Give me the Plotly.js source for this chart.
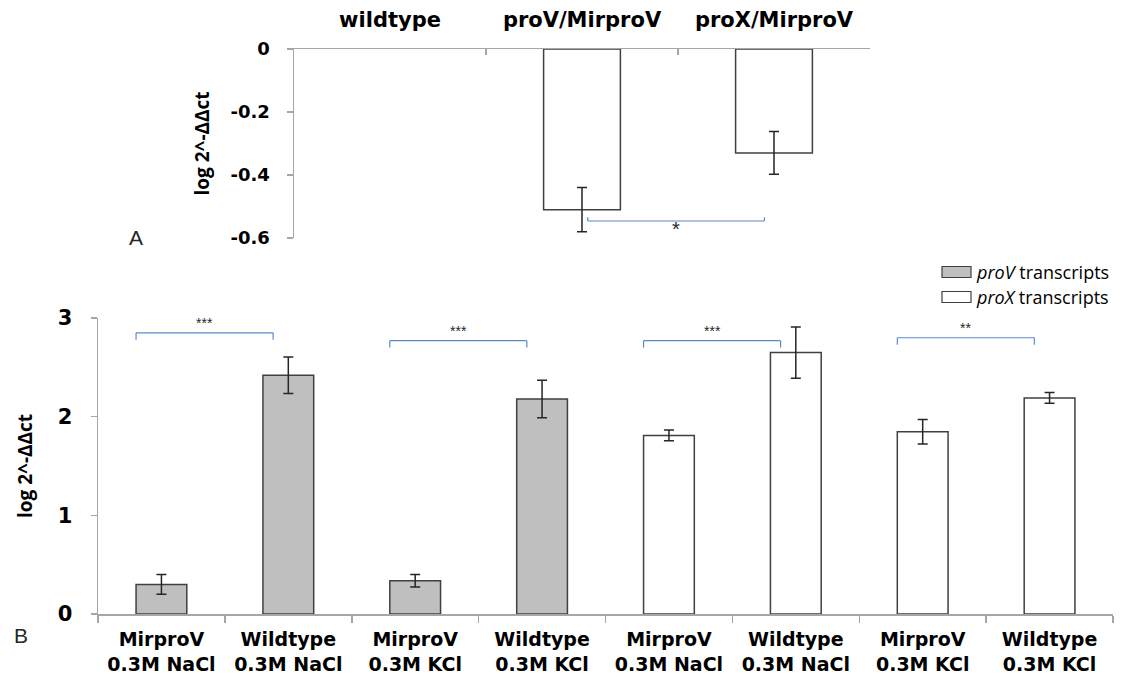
<!DOCTYPE html>
<html>
<head>
<meta charset="utf-8">
<script src="https://cdn.plot.ly/plotly-3.0.1.min.js"></script>
<style>html,body{margin:0;padding:0;background:#fff;}#chart{width:1130px;height:678px;}</style>
</head>
<body>
<div id="chart"></div>
<script>
// ---- Panel A data ----
const aCategories = ['wildtype', 'proV/MirproV', 'proX/MirproV'];
const aValues = [null, -0.51, -0.33];
const aErrors = [null, 0.07, 0.068];
const aTickVals = [0, -0.2, -0.4, -0.6];
const aTickText = ['0', '-0.2', '-0.4', '-0.6'];
const aSigLabel = '*';

// ---- Panel B data ----
const bConditions = ['MirproV<br>0.3M NaCl', 'Wildtype<br>0.3M NaCl', 'MirproV<br>0.3M KCl', 'Wildtype<br>0.3M KCl'];
const bSeriesNames = ['<i>proV</i> transcripts', '<i>proX</i> transcripts'];
const proVValues = [0.30, 2.42, 0.337, 2.18];
const proVErrors = [0.10, 0.185, 0.063, 0.19];
const proXValues = [1.81, 2.65, 1.847, 2.19];
const proXErrors = [0.055, 0.26, 0.125, 0.055];
const bTickVals = [0, 1, 2, 3];
const bSigLabels = ['***', '***', '***', '**'];

// category keys (unique) and displayed labels
const proVKeys = bConditions.map((c, i) => 'V' + i);
const proXKeys = bConditions.map((c, i) => 'X' + i);
const bKeys = proVKeys.concat(proXKeys);
const bLabels = bConditions.concat(bConditions);

const axisGray = '#a6a6a6';
const barLine = '#404040';
const sigBlue = '#5b8cc8';
const boldFont = 'DejaVu Sans';
const fills = ['#bfbfbf', '#ffffff'];

const errStyle = {type: 'data', visible: true, color: '#262626', thickness: 1.5, width: 5};

const traces = [
  {
    type: 'bar', x: aCategories, y: aValues, xaxis: 'x', yaxis: 'y',
    width: 0.4, showlegend: false,
    marker: {color: '#ffffff', line: {color: barLine, width: 1.5}},
    error_y: Object.assign({array: aErrors}, errStyle)
  },
  {
    type: 'bar', x: proVKeys, y: proVValues, xaxis: 'x2', yaxis: 'y2',
    name: bSeriesNames[0], width: 0.4, showlegend: false,
    marker: {color: fills[0], line: {color: barLine, width: 1.5}},
    error_y: Object.assign({array: proVErrors}, errStyle)
  },
  {
    type: 'bar', x: proXKeys, y: proXValues, xaxis: 'x2', yaxis: 'y2',
    name: bSeriesNames[1], width: 0.4, showlegend: false,
    marker: {color: fills[1], line: {color: barLine, width: 1.5}},
    error_y: Object.assign({array: proXErrors}, errStyle)
  }
];

const shapes = [];
const annotations = [];

// significance brackets, panel B
const bPairs = [[0, 1], [2, 3], [4, 5], [6, 7]];
const bBracketY = [2.85, 2.77, 2.77, 2.80];
bPairs.forEach((p, k) => {
  const x0 = p[0] - 0.2, x1 = p[1] - 0.12, y = bBracketY[k], t = 0.07;
  const ln = {type: 'line', xref: 'x2', yref: 'y2', line: {color: sigBlue, width: 1.2}};
  shapes.push(Object.assign({x0: x0, x1: x1, y0: y, y1: y}, ln));
  shapes.push(Object.assign({x0: x0, x1: x0, y0: y, y1: y - t}, ln));
  shapes.push(Object.assign({x0: x1, x1: x1, y0: y, y1: y - t}, ln));
  annotations.push({xref: 'x2', yref: 'y2', x: (x0 + x1) / 2, y: y + 0.1, text: bSigLabels[k],
    showarrow: false, font: {family: 'Liberation Sans', size: 14, color: '#262626'}});
});
// panel A bracket
(function () {
  const x0 = 1.03, x1 = 1.95, y = -0.546, t = 0.012;
  const ln = {type: 'line', xref: 'x', yref: 'y', line: {color: sigBlue, width: 1.2}};
  shapes.push(Object.assign({x0: x0, x1: x1, y0: y, y1: y}, ln));
  shapes.push(Object.assign({x0: x0, x1: x0, y0: y, y1: y + t}, ln));
  shapes.push(Object.assign({x0: x1, x1: x1, y0: y, y1: y + t}, ln));
  annotations.push({xref: 'x', yref: 'y', x: (x0 + x1) / 2, y: -0.572, text: aSigLabel,
    showarrow: false, font: {family: 'Liberation Sans', size: 20, color: '#262626'}});
})();

// legend (wide swatches as in the original)
const legendRows = [272, 297];
bSeriesNames.forEach((name, i) => {
  const yc = legendRows[i];
  shapes.push({type: 'rect', xref: 'paper', yref: 'paper',
    x0: 942 / 1130, x1: 971 / 1130, y0: 1 - (yc - 5.5) / 678, y1: 1 - (yc + 5.5) / 678,
    fillcolor: fills[i], line: {color: barLine, width: 1.2}});
  annotations.push({xref: 'paper', yref: 'paper', x: 974 / 1130, y: 1 - yc / 678,
    xanchor: 'left', yanchor: 'middle', text: name, showarrow: false,
    font: {family: 'Open Sans', size: 18, color: '#000'}});
});

// panel letters
annotations.push({xref: 'paper', yref: 'paper', x: 136 / 1130, y: 1 - 238 / 678, text: 'A',
  showarrow: false, xanchor: 'center', yanchor: 'middle', font: {family: 'Liberation Sans', size: 21, color: '#262626'}});
annotations.push({xref: 'paper', yref: 'paper', x: 21 / 1130, y: 1 - 635 / 678, text: 'B',
  showarrow: false, xanchor: 'center', yanchor: 'middle', font: {family: 'Liberation Sans', size: 21, color: '#262626'}});

const titleFont = {family: 'Open Sans', size: 19, color: '#000', weight: 'bold'};

const layout = {
  width: 1130, height: 678,
  margin: {l: 0, r: 0, t: 0, b: 0},
  paper_bgcolor: '#ffffff', plot_bgcolor: 'rgba(0,0,0,0)',
  barmode: 'overlay',
  showlegend: false,
  xaxis: {
    type: 'category', domain: [294 / 1130, 870 / 1130], anchor: 'y', side: 'top',
    range: [-0.5, 2.5], tickson: 'boundaries', ticks: 'inside', ticklen: 6,
    tickcolor: axisGray, tickwidth: 1.5, showline: true, linecolor: axisGray, linewidth: 1.5,
    showgrid: false, zeroline: false, ticklabelstandoff: 12,
    tickfont: {family: boldFont, size: 21, color: '#000', weight: 'bold'}, fixedrange: true
  },
  yaxis: {
    domain: [1 - 238 / 678, 1 - 49 / 678], anchor: 'x', range: [-0.6, 0],
    tickmode: 'array', tickvals: aTickVals, ticktext: aTickText,
    ticks: 'outside', ticklen: 6, tickcolor: axisGray, tickwidth: 1.5,
    showline: true, linecolor: axisGray, linewidth: 1.5, showgrid: false, zeroline: false,
    ticklabelstandoff: 13,
    tickfont: {family: boldFont, size: 18, color: '#000', weight: 'bold'},
    title: {text: 'log 2^-ΔΔct', font: titleFont, standoff: 16}, automargin: false
  },
  xaxis2: {
    type: 'category', domain: [98 / 1130, 1113 / 1130], anchor: 'y2',
    categoryorder: 'array', categoryarray: bKeys,
    tickmode: 'array', tickvals: bKeys, ticktext: bLabels,
    range: [-0.5, 7.5], tickson: 'boundaries', ticks: 'outside', ticklen: 7,
    tickcolor: axisGray, tickwidth: 1.5, showline: true, linecolor: axisGray, linewidth: 1.5,
    showgrid: false, zeroline: false, ticklabelstandoff: 8,
    tickfont: {family: boldFont, size: 19, color: '#000', weight: 'bold'}
  },
  yaxis2: {
    domain: [1 - 614 / 678, 1 - 318 / 678], anchor: 'x2', range: [0, 3],
    tickmode: 'array', tickvals: bTickVals,
    ticks: 'outside', ticklen: 6, tickcolor: axisGray, tickwidth: 1.5,
    showline: true, linecolor: axisGray, linewidth: 1.5, showgrid: false, zeroline: false,
    ticklabelstandoff: 14,
    tickfont: {family: boldFont, size: 21, color: '#000', weight: 'bold'},
    title: {text: 'log 2^-ΔΔct', font: titleFont, standoff: 20}, automargin: false
  },
  shapes: shapes,
  annotations: annotations
};

Plotly.newPlot('chart', traces, layout, {displayModeBar: false, staticPlot: true});
</script>
</body>
</html>
